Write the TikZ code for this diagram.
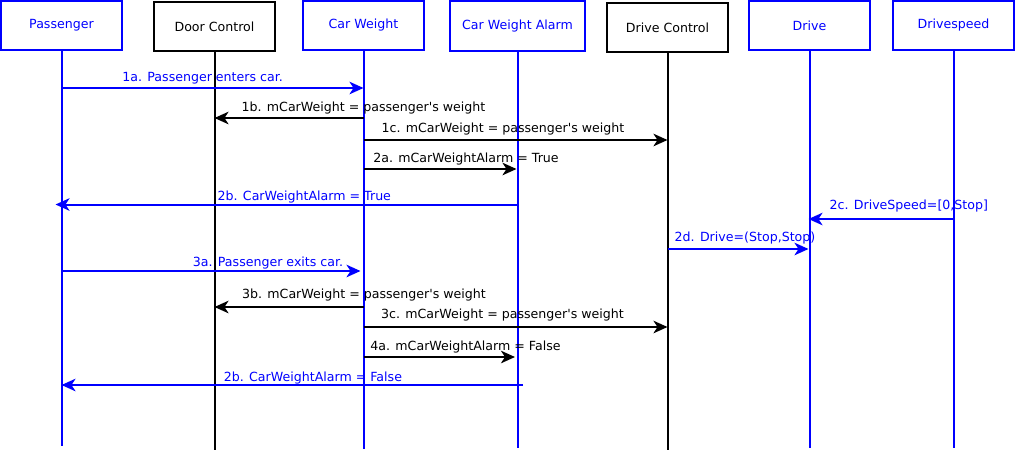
\documentclass[tikz,border=0pt]{standalone}
\usepackage{fontspec}
\setmainfont{DejaVu Sans}[Ligatures=TeXOff]
\usetikzlibrary{arrows.meta}
\definecolor{ublue}{RGB}{0,0,255}
\begin{document}
\begin{tikzpicture}[x=1pt,y=-1pt,
  obj/.style={draw, line width=2pt, minimum width=121pt, minimum height=49pt, inner sep=0pt, font=\fontsize{12.6}{15}\selectfont},
  bobj/.style={obj, draw=ublue, text=ublue},
  kobj/.style={obj, draw=black, text=black},
  life/.style={line width=2pt},
  msg/.style={line width=2pt, -{Stealth[length=14pt,width=12.5pt,inset=4pt]}},
  bmsg/.style={msg, ublue},
  kmsg/.style={msg, black},
  lbl/.style={anchor=base, inner sep=0pt, font=\fontsize{12.6}{15}\selectfont},
  blbl/.style={lbl, text=ublue},
  klbl/.style={lbl, text=black}]
\useasboundingbox (0,0) rectangle (1015,451);
% objects
\node[bobj] (pas) at (61.5,25.5) {Passenger};
\node[kobj] (door) at (214.5,26.5) {Door Control};
\node[bobj] (cw) at (363.5,25.5) {Car Weight};
\node[bobj, minimum width=135pt, minimum height=50pt] (al) at (517.5,26) {Car Weight Alarm};
\node[kobj] (dc) at (667.5,27.5) {Drive Control};
\node[bobj] (dr) at (809.5,25.5) {Drive};
\node[bobj] (ds) at (953.5,25.5) {Drivespeed};
% lifeline ends
\coordinate (pasE) at (61.5,446);
\coordinate (doorE) at (214.5,450);
\coordinate (cwE) at (363.5,449);
\coordinate (alE) at (517.5,448);
\coordinate (dcE) at (667.5,450);
\coordinate (drE) at (809.5,448);
\coordinate (dsE) at (953.5,448);
\draw[life, ublue] (pas.south) -- (pasE);
\draw[life, black] (door.south) -- (doorE);
\draw[life, ublue] (cw.south) -- (cwE);
\draw[life, ublue] (al.south) -- (alE);
\draw[life, black] (dc.south) -- (dcE);
\draw[life, ublue] (dr.south) -- (drE);
\draw[life, ublue] (ds.south) -- (dsE);
% message rows
\coordinate (r1) at (0,88);
\coordinate (r2) at (0,118);
\coordinate (r3) at (0,140);
\coordinate (r4) at (0,169);
\coordinate (r5) at (0,204.5);
\coordinate (r6) at (0,219);
\coordinate (r7) at (0,249);
\coordinate (r8) at (0,271);
\coordinate (r9) at (0,307);
\coordinate (r10) at (0,327);
\coordinate (r11) at (0,357);
\coordinate (r12) at (0,385);
% messages
\draw[bmsg] (pas |- r1) -- (cw |- r1);
\node[blbl] (l1) at (202.6,81.2) {1a. Passenger enters car.};
\draw[kmsg] (cw |- r2) -- (door |- r2);
\node[klbl] (l2) at (363.5,111.2) {1b. mCarWeight = passenger's weight};
\draw[kmsg] (cw |- r3) -- (dc |- r3);
\node[klbl] (l3) at (503,132.2) {1c. mCarWeight = passenger's weight};
\draw[kmsg, shorten >=1pt] (cw |- r4) -- (al |- r4);
\node[klbl] (l4) at (466,162.2) {2a. mCarWeightAlarm = True};
\draw[bmsg, shorten >=-6pt] (al |- r5) -- (pas |- r5);
\node[blbl] (l5) at (304.3,200.2) {2b. CarWeightAlarm = True};
\draw[bmsg, shorten >=-1pt] (ds |- r6) -- (dr |- r6);
\node[blbl] (l6) at (908.8,209.5) {2c. DriveSpeed=[0,Stop]};
\draw[bmsg, shorten >=1pt] (dc |- r7) -- (dr |- r7);
\node[blbl] (l7) at (745,241.8) {2d. Drive=(Stop,Stop)};
\draw[bmsg, shorten >=3pt] (pas |- r8) -- (cw |- r8);
\node[blbl] (l8) at (268,266.2) {3a. Passenger exits car.};
\draw[kmsg] (cw |- r9) -- (door |- r9);
\node[klbl] (l9) at (364,298.8) {3b. mCarWeight = passenger's weight};
\draw[kmsg] (cw |- r10) -- (dc |- r10);
\node[klbl] (l10) at (502.5,318.8) {3c. mCarWeight = passenger's weight};
\draw[kmsg, shorten >=2.5pt] (cw |- r11) -- (al |- r11);
\node[klbl] (l11) at (465.5,350.2) {4a. mCarWeightAlarm = False};
\draw[bmsg, shorten <=-5.5pt] (al |- r12) -- (pas |- r12);
\node[blbl] (l12) at (312.9,381.2) {2b. CarWeightAlarm = False};
\end{tikzpicture}
\end{document}
